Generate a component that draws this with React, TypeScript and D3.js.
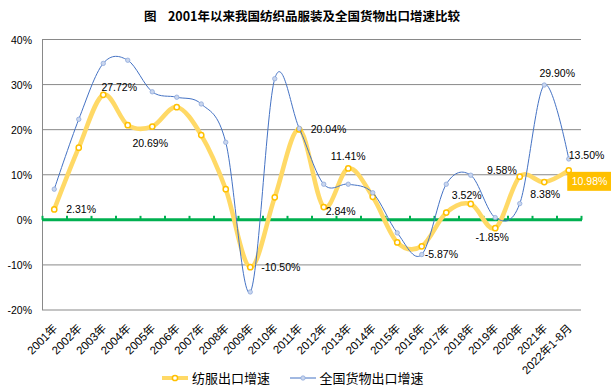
import React, { useRef, useEffect } from 'react';
import * as d3 from 'd3';

// categories
const years = [
  '2001年', '2002年', '2003年', '2004年', '2005年', '2006年', '2007年', '2008年',
  '2009年', '2010年', '2011年', '2012年', '2013年', '2014年', '2015年', '2016年',
  '2017年', '2018年', '2019年', '2020年', '2021年', '2022年1-8月',
];

// 纺服出口增速 (%)
const textileGrowth = [
  2.31, 16.0, 27.72, 21.0, 20.69, 25.0, 18.8, 6.8, -10.5, 5.0, 20.04,
  2.84, 11.41, 5.1, -5.0, -5.87, 1.6, 3.52, -1.85, 9.58, 8.38, 10.98,
];

// 全国货物出口增速 (%)
const totalGrowth = [
  6.8, 22.3, 34.7, 35.4, 28.4, 27.2, 25.7, 17.2, -16.0, 31.3, 20.3,
  7.9, 7.9, 6.0, -2.9, -7.7, 7.9, 9.9, 0.5, 3.6, 29.9, 13.5,
];

const yTicks = [-20, -10, 0, 10, 20, 30, 40];

// which points get a value label: [series, index, dx, dy, anchor]
const labelSpots: [string, number, number, number, string][] = [
  ['t', 0, 12, 0, 'start'],
  ['t', 2, 16, -7.5, 'middle'],
  ['t', 4, -2, 16, 'middle'],
  ['t', 8, 11, 0, 'start'],
  ['t', 10, 11.5, 0, 'start'],
  ['t', 11, 2, 4, 'start'],
  ['t', 12, 0, -12, 'middle'],
  ['t', 15, 3, 7.5, 'start'],
  ['t', 17, -4, -9, 'middle'],
  ['t', 18, -3, 9, 'middle'],
  ['t', 19, -3, -6.5, 'end'],
  ['t', 20, 1, 11.5, 'middle'],
  ['g', 20, 13, -12, 'middle'],
  ['g', 21, 0, -3.5, 'start'],
];

const YELLOW = '#FFD966';
const GOLD = '#FFC000';
const BLUE = '#4472C4';

const App = () => {
  const svgRef = useRef<SVGSVGElement>(null);

  useEffect(() => {
    const svg = d3.select(svgRef.current);
    svg.selectAll('*').remove();

    const left = 42, right = 581, top = 39.5, bottom = 310;
    const numFont = '"Liberation Sans", "Noto Sans CJK SC", sans-serif';
    const cjkFont = '"Noto Sans CJK SC", sans-serif';

    const x = d3.scaleBand().domain(years).range([left, right]);
    const y = d3.scaleLinear().domain([-20, 40]).range([bottom, top]);
    const cx = (i: number) => (x(years[i]) as number) + x.bandwidth() / 2;

    // title
    svg.append('text')
      .attr('x', 302).attr('y', 21)
      .attr('text-anchor', 'middle')
      .attr('font-family', cjkFont)
      .attr('font-weight', 'bold')
      .attr('font-size', 12.5)
      .attr('xml:space', 'preserve')
      .text('图    2001年以来我国纺织品服装及全国货物出口增速比较');

    // gridlines
    svg.append('g')
      .selectAll('line')
      .data(yTicks.filter(d => d !== 0))
      .join('line')
      .attr('x1', left).attr('x2', right)
      .attr('y1', d => y(d)).attr('y2', d => y(d))
      .attr('stroke', '#898989').attr('stroke-width', 1);

    // left axis line
    svg.append('line')
      .attr('x1', left + 0.5).attr('x2', left + 0.5)
      .attr('y1', top).attr('y2', bottom)
      .attr('stroke', '#898989');

    // y labels
    svg.append('g')
      .selectAll('text')
      .data(yTicks)
      .join('text')
      .attr('x', 32).attr('y', d => y(d) + 4)
      .attr('text-anchor', 'end')
      .attr('font-family', numFont)
      .attr('font-size', 10.5)
      .attr('fill', '#000')
      .text(d => `${d}%`);

    // zero line with tick marks
    svg.append('line')
      .attr('x1', left).attr('x2', right + 1)
      .attr('y1', y(0)).attr('y2', y(0))
      .attr('stroke', '#00B050').attr('stroke-width', 3);
    svg.append('g')
      .selectAll('line')
      .data(d3.range(years.length + 1))
      .join('line')
      .attr('x1', i => left + i * x.bandwidth() + 0.5)
      .attr('x2', i => left + i * x.bandwidth() + 0.5)
      .attr('y1', y(0) - 4).attr('y2', y(0))
      .attr('stroke', '#00B050').attr('stroke-width', 2);

    // x labels
    svg.append('g')
      .selectAll('text')
      .data(years)
      .join('text')
      .attr('transform', (d, i) => `translate(${cx(i) + 4},${bottom + 19}) rotate(-45)`)
      .attr('text-anchor', 'end')
      .attr('font-family', numFont)
      .attr('font-size', 11.5)
      .attr('fill', '#000')
      .text(d => d);

    const line = d3.line<number>()
      .x((d, i) => cx(i))
      .y(d => y(d))
      .curve(d3.curveCardinal.tension(0));

    // textile series
    svg.append('path')
      .datum(textileGrowth)
      .attr('d', line)
      .attr('fill', 'none')
      .attr('stroke', YELLOW)
      .attr('stroke-width', 4.5)
      .attr('stroke-linejoin', 'round');
    svg.append('g')
      .selectAll('circle')
      .data(textileGrowth)
      .join('circle')
      .attr('cx', (d, i) => cx(i)).attr('cy', d => y(d))
      .attr('r', 2.6)
      .attr('fill', '#fff')
      .attr('stroke', GOLD)
      .attr('stroke-width', 1.5);

    // total series
    svg.append('path')
      .datum(totalGrowth)
      .attr('d', line)
      .attr('fill', 'none')
      .attr('stroke', BLUE)
      .attr('stroke-width', 1);
    svg.append('g')
      .selectAll('circle')
      .data(totalGrowth)
      .join('circle')
      .attr('cx', (d, i) => cx(i)).attr('cy', d => y(d))
      .attr('r', 2.2)
      .attr('fill', '#C9D6EE')
      .attr('stroke', '#8FAADC')
      .attr('stroke-width', 0.8);

    // value labels
    labelSpots.forEach(([s, i, dx, dy, anchor]) => {
      const v = s === 't' ? textileGrowth[i] : totalGrowth[i];
      svg.append('text')
        .attr('x', cx(i) + dx)
        .attr('y', y(v) + dy + 4)
        .attr('text-anchor', anchor)
        .attr('font-family', numFont)
        .attr('font-size', 10.5)
        .attr('fill', '#000')
        .text(`${v.toFixed(2)}%`);
    });

    // highlighted last value
    const last = textileGrowth.length - 1;
    const lx = cx(last), ly = y(textileGrowth[last]);
    svg.append('rect')
      .attr('x', lx - 1.5).attr('y', ly + 1.5)
      .attr('width', 44).attr('height', 19)
      .attr('fill', GOLD);
    svg.append('text')
      .attr('x', lx + 3).attr('y', ly + 15)
      .attr('font-family', numFont)
      .attr('font-size', 10.5)
      .attr('fill', '#fff')
      .text(`${textileGrowth[last].toFixed(2)}%`);

    // legend
    const legend = svg.append('g').attr('transform', 'translate(0,378)');
    legend.append('line')
      .attr('x1', 162).attr('x2', 188).attr('y1', 0).attr('y2', 0)
      .attr('stroke', YELLOW).attr('stroke-width', 4);
    legend.append('circle')
      .attr('cx', 175).attr('cy', 0).attr('r', 2.6)
      .attr('fill', '#fff').attr('stroke', GOLD).attr('stroke-width', 1.5);
    legend.append('text')
      .attr('x', 192).attr('y', 4.5)
      .attr('font-family', cjkFont).attr('font-size', 13)
      .text('纺服出口增速');
    legend.append('line')
      .attr('x1', 290).attr('x2', 316).attr('y1', 0).attr('y2', 0)
      .attr('stroke', BLUE).attr('stroke-width', 1);
    legend.append('circle')
      .attr('cx', 303).attr('cy', 0).attr('r', 2.2)
      .attr('fill', '#C9D6EE').attr('stroke', '#8FAADC').attr('stroke-width', 0.8);
    legend.append('text')
      .attr('x', 319.5).attr('y', 4.5)
      .attr('font-family', cjkFont).attr('font-size', 13)
      .text('全国货物出口增速');
  }, []);

  return (
    <svg ref={svgRef} width="611" height="392"
      style={{ position: 'absolute', left: 0, top: 0, background: '#fff' }} />
  );
};

export default App;
